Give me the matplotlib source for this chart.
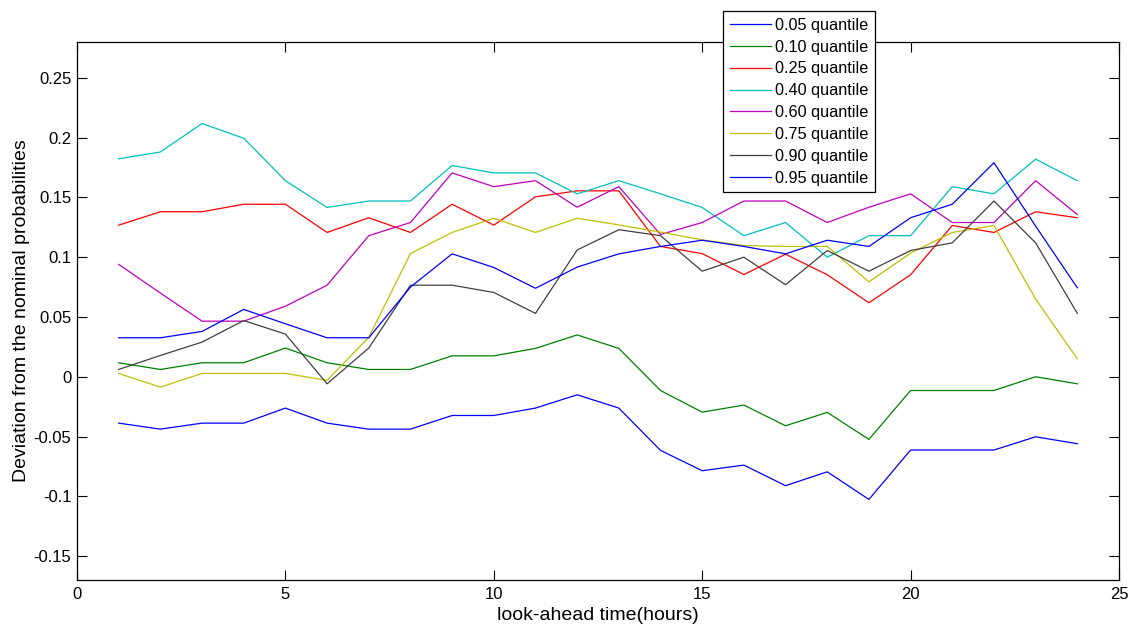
import matplotlib
matplotlib.use("Agg")
import matplotlib.pyplot as plt
from matplotlib.ticker import FuncFormatter

plt.rcParams['font.family'] = ['Liberation Sans', 'DejaVu Sans']

hours = list(range(1, 25))

q05 = [-0.0388, -0.0438, -0.0388, -0.0388, -0.0262, -0.0388, -0.0438, -0.0438,
       -0.0324, -0.0324, -0.0262, -0.0151, -0.0262, -0.0616, -0.0786, -0.0739,
       -0.0911, -0.0795, -0.1026, -0.0613, -0.0613, -0.0613, -0.0502, -0.0560]
q10 = [0.0117, 0.0061, 0.0117, 0.0117, 0.0240, 0.0117, 0.0061, 0.0061,
       0.0175, 0.0175, 0.0237, 0.0350, 0.0237, -0.0115, -0.0296, -0.0237,
       -0.0410, -0.0298, -0.0524, -0.0115, -0.0115, -0.0115, 0.0000, -0.0059]
q25 = [0.1268, 0.1380, 0.1380, 0.1443, 0.1443, 0.1207, 0.1330, 0.1207,
       0.1443, 0.1268, 0.1505, 0.1555, 0.1555, 0.1090, 0.1030, 0.0855,
       0.1025, 0.0853, 0.0619, 0.0853, 0.1265, 0.1207, 0.1380, 0.1330]
q40 = [0.1823, 0.1880, 0.2118, 0.1995, 0.1640, 0.1416, 0.1470, 0.1470,
       0.1767, 0.1705, 0.1705, 0.1530, 0.1640, 0.1530, 0.1416, 0.1180,
       0.1290, 0.1000, 0.1180, 0.1180, 0.1590, 0.1530, 0.1820, 0.1640]
q60 = [0.0940, 0.0700, 0.0465, 0.0465, 0.0590, 0.0766, 0.1180, 0.1290,
       0.1705, 0.1590, 0.1640, 0.1418, 0.1590, 0.1190, 0.1290, 0.1470,
       0.1470, 0.1290, 0.1418, 0.1530, 0.1290, 0.1290, 0.1640, 0.1357]
q75 = [0.0028, -0.0087, 0.0028, 0.0028, 0.0028, -0.0030, 0.0330, 0.1030,
       0.1207, 0.1326, 0.1207, 0.1326, 0.1270, 0.1210, 0.1145, 0.1098,
       0.1090, 0.1090, 0.0794, 0.1034, 0.1207, 0.1265, 0.0650, 0.0150]
q90 = [0.0061, 0.0178, 0.0290, 0.0470, 0.0357, -0.0059, 0.0240, 0.0766,
       0.0766, 0.0705, 0.0530, 0.1060, 0.1230, 0.1180, 0.0883, 0.1000,
       0.0770, 0.1056, 0.0883, 0.1056, 0.1120, 0.1470, 0.1120, 0.0530]
q95 = [0.0326, 0.0326, 0.0379, 0.0563, 0.0443, 0.0326, 0.0326, 0.0750,
       0.1028, 0.0914, 0.0740, 0.0917, 0.1028, 0.1090, 0.1142, 0.1090,
       0.1028, 0.1142, 0.1090, 0.1330, 0.1443, 0.1790, 0.1260, 0.0744]

labels = ['0.05 quantile', '0.10 quantile', '0.25 quantile', '0.40 quantile',
          '0.60 quantile', '0.75 quantile', '0.90 quantile', '0.95 quantile']
series = [q05, q10, q25, q40, q60, q75, q90, q95]
colors = [(0, 0, 1), (0, 0.5, 0), (1, 0, 0), (0, 0.75, 0.75),
          (0.75, 0, 0.75), (0.75, 0.75, 0), (0.25, 0.25, 0.25), (0, 0, 1)]

xticks = [0, 5, 10, 15, 20, 25]
yticks = [-0.15, -0.1, -0.05, 0, 0.05, 0.1, 0.15, 0.2, 0.25]

W, H = 1142, 630
fig = plt.figure(figsize=(W / 100, H / 100), dpi=100)
ax = fig.add_axes([77 / W, 1 - 580 / H, (1119 - 77) / W, (580 - 42) / H])

for s, lab, c in zip(series, labels, colors):
    ax.plot(hours, s, color=c, lw=0.9, label=lab)

ax.set_xlim(0, 25)
ax.set_ylim(-0.17, 0.28)
ax.set_xticks(xticks)
ax.set_yticks(yticks)
ax.yaxis.set_major_formatter(FuncFormatter(lambda v, p: ('%g' % round(v, 4))))
ax.xaxis.set_major_formatter(FuncFormatter(lambda v, p: ('%g' % v)))
ax.tick_params(direction='in', length=7.5, width=0.8, top=True, right=True,
               labelsize=12, colors='black')
ax.tick_params(axis='y', pad=4)
ax.tick_params(axis='x', pad=5)
for sp in ax.spines.values():
    sp.set_linewidth(0.9)
    sp.set_color('black')

ax.set_xlabel('look-ahead time(hours)', fontsize=14, labelpad=4)
ax.set_ylabel('Deviation from the nominal probabilities', fontsize=14, labelpad=3)

leg = ax.legend(loc='upper left', bbox_to_anchor=(722.7 / W, 1 - 11 / H),
                bbox_transform=fig.transFigure, borderaxespad=0,
                fontsize=11.7, frameon=True, fancybox=False, framealpha=1,
                edgecolor='black', handlelength=2.55, handletextpad=0.25,
                labelspacing=0.42, borderpad=0.42)
leg.get_frame().set_linewidth(0.9)
leg.set_zorder(10)

fig.savefig('out.png', dpi=100)
